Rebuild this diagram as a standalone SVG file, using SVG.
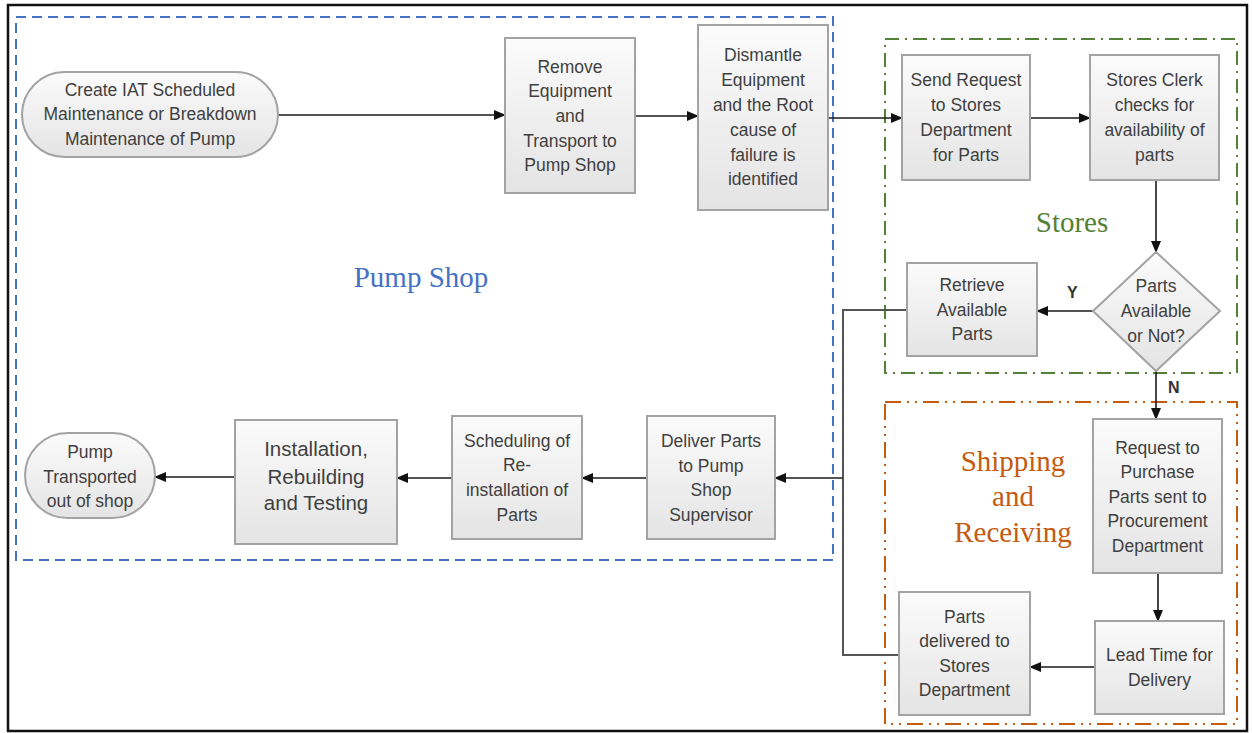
<svg xmlns="http://www.w3.org/2000/svg" width="1252" height="733" viewBox="0 0 1252 733">
<style>
.box{fill:url(#g);stroke:#a3a3a3;stroke-width:2}
.t{font-family:"Liberation Sans",Arial,sans-serif;font-size:17.5px;fill:#3f3f3f;text-anchor:middle}
.big{font-size:20.5px}
.c{fill:none;stroke:#1a1a1a;stroke-width:1.6}
.c2{fill:none;stroke:#555;stroke-width:2}
.lbl{font-family:"Liberation Serif","Times New Roman",serif;font-size:29px;text-anchor:middle}
.yn{font-family:"Liberation Sans",Arial,sans-serif;font-size:16px;font-weight:bold;fill:#333}
</style>
<defs>
<linearGradient id="g" x1="0" y1="0" x2="0" y2="1">
<stop offset="0" stop-color="#fbfbfb"/>
<stop offset="1" stop-color="#e4e4e4"/>
</linearGradient>
<marker id="a" markerWidth="12" markerHeight="10" refX="11" refY="5" orient="auto" markerUnits="userSpaceOnUse">
<path d="M0,0 L12,5 L0,10 Z" fill="#111"/>
</marker>
</defs>
<rect width="1252" height="733" fill="#fff"/>
<rect x="8" y="5" width="1239" height="726" fill="none" stroke="#111" stroke-width="2.5"/>
<g id="groups">
<rect x="16" y="17" width="817" height="543" fill="none" stroke="#4472C4" stroke-width="2" stroke-dasharray="10,6"/>
<rect x="885" y="39" width="352" height="334" fill="none" stroke="#538135" stroke-width="2" stroke-dasharray="14,6,2,6"/>
<rect x="885" y="402" width="352" height="322" fill="none" stroke="#C55A11" stroke-width="2" stroke-dasharray="16,6,2,6,2,6"/>
<text class="lbl" x="421" y="287" fill="#4472C4">Pump Shop</text>
<text class="lbl" x="1072" y="232" fill="#538135">Stores</text>
<text class="lbl" x="1013" y="471" fill="#C55A11">Shipping</text>
<text class="lbl" x="1013" y="506" fill="#C55A11">and</text>
<text class="lbl" x="1013" y="542" fill="#C55A11">Receiving</text>
</g>
<g id="connectors">
<path class="c" d="M278,115 H505" marker-end="url(#a)"/>
<path class="c" d="M635,116 H698" marker-end="url(#a)"/>
<path class="c" d="M828,118 H902" marker-end="url(#a)"/>
<path class="c" d="M1030,118 H1090" marker-end="url(#a)"/>
<path class="c" d="M1156,180 V252" marker-end="url(#a)"/>
<path class="c" d="M1093,311 H1037" marker-end="url(#a)"/>
<text class="yn" x="1067" y="298">Y</text>
<path class="c" d="M1156,371 V419" marker-end="url(#a)"/>
<text class="yn" x="1168" y="393">N</text>
<path class="c" d="M1158,573 V621" marker-end="url(#a)"/>
<path class="c" d="M1095,667 H1030" marker-end="url(#a)"/>
<path class="c2" d="M907,310 H843 V655 H899"/>
<path class="c" d="M843,478 H775" marker-end="url(#a)"/>
<path class="c" d="M647,478 H582" marker-end="url(#a)"/>
<path class="c" d="M452,478 H397" marker-end="url(#a)"/>
<path class="c" d="M235,477 H155" marker-end="url(#a)"/>
</g>
<g id="n1">
<rect class="box" x="22" y="72" width="256" height="85" rx="42.5"/>
<text class="t" x="150" y="96">Create IAT Scheduled</text>
<text class="t" x="150" y="120">Maintenance or Breakdown</text>
<text class="t" x="150" y="145">Maintenance of Pump</text>
</g>
<g id="n2">
<rect class="box" x="505" y="38" width="130" height="155"/>
<text class="t" x="570" y="73">Remove</text>
<text class="t" x="570" y="97">Equipment</text>
<text class="t" x="570" y="122">and</text>
<text class="t" x="570" y="147">Transport to</text>
<text class="t" x="570" y="171">Pump Shop</text>
</g>
<g id="n3">
<rect class="box" x="698" y="25" width="130" height="185"/>
<text class="t" x="763" y="61">Dismantle</text>
<text class="t" x="763" y="86">Equipment</text>
<text class="t" x="763" y="111">and the Root</text>
<text class="t" x="763" y="136">cause of</text>
<text class="t" x="763" y="161">failure is</text>
<text class="t" x="763" y="185">identified</text>
</g>
<g id="n4">
<rect class="box" x="902" y="55" width="128" height="125"/>
<text class="t" x="966" y="86">Send Request</text>
<text class="t" x="966" y="111">to Stores</text>
<text class="t" x="966" y="136">Department</text>
<text class="t" x="966" y="161">for Parts</text>
</g>
<g id="n5">
<rect class="box" x="1090" y="55" width="129" height="125"/>
<text class="t" x="1154.5" y="86">Stores Clerk</text>
<text class="t" x="1154.5" y="111">checks for</text>
<text class="t" x="1154.5" y="136">availability of</text>
<text class="t" x="1154.5" y="161">parts</text>
</g>
<g id="n6">
<polygon class="box" points="1156,252 1220,311 1156,371 1093,311"/>
<text class="t" x="1156" y="292">Parts</text>
<text class="t" x="1156" y="317">Available</text>
<text class="t" x="1156" y="342">or Not?</text>
</g>
<g id="n7">
<rect class="box" x="907" y="263" width="130" height="93"/>
<text class="t" x="972" y="291">Retrieve</text>
<text class="t" x="972" y="316">Available</text>
<text class="t" x="972" y="340">Parts</text>
</g>
<g id="n8">
<rect class="box" x="1093" y="419" width="129" height="154"/>
<text class="t" x="1157.5" y="454">Request to</text>
<text class="t" x="1157.5" y="478">Purchase</text>
<text class="t" x="1157.5" y="503">Parts sent to</text>
<text class="t" x="1157.5" y="527">Procurement</text>
<text class="t" x="1157.5" y="552">Department</text>
</g>
<g id="n9">
<rect class="box" x="1095" y="621" width="129" height="93"/>
<text class="t" x="1159.5" y="661">Lead Time for</text>
<text class="t" x="1159.5" y="686">Delivery</text>
</g>
<g id="n10">
<rect class="box" x="899" y="592" width="131" height="123"/>
<text class="t" x="964.5" y="623">Parts</text>
<text class="t" x="964.5" y="647">delivered to</text>
<text class="t" x="964.5" y="672">Stores</text>
<text class="t" x="964.5" y="696">Department</text>
</g>
<g id="n11">
<rect class="box" x="647" y="416" width="128" height="123"/>
<text class="t" x="711" y="447">Deliver Parts</text>
<text class="t" x="711" y="472">to Pump</text>
<text class="t" x="711" y="496">Shop</text>
<text class="t" x="711" y="521">Supervisor</text>
</g>
<g id="n12">
<rect class="box" x="452" y="416" width="130" height="123"/>
<text class="t" x="517" y="447">Scheduling of</text>
<text class="t" x="517" y="471">Re-</text>
<text class="t" x="517" y="496">installation of</text>
<text class="t" x="517" y="521">Parts</text>
</g>
<g id="n13">
<rect class="box" x="235" y="420" width="162" height="124"/>
<text class="t big" x="316" y="456">Installation,</text>
<text class="t big" x="316" y="484">Rebuilding</text>
<text class="t big" x="316" y="510">and Testing</text>
</g>
<g id="n14">
<rect class="box" x="25" y="433" width="130" height="85" rx="42.5"/>
<text class="t" x="90" y="458">Pump</text>
<text class="t" x="90" y="483">Transported</text>
<text class="t" x="90" y="507">out of shop</text>
</g>
</svg>
